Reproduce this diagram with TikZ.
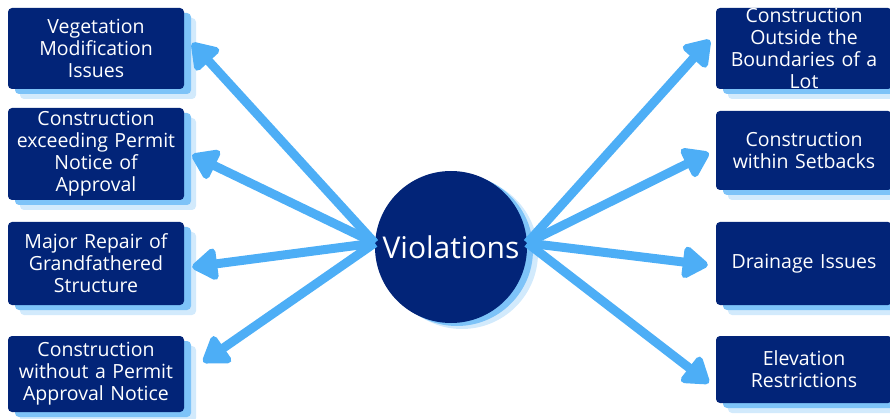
\documentclass[tikz,border=0pt]{standalone}
\usepackage{fontspec}
\setmainfont{Open Sans}
\usetikzlibrary{arrows.meta,shadows}
\definecolor{navy}{RGB}{2,36,120}
\definecolor{skyblue}{RGB}{125,195,248}
\definecolor{paleblue}{RGB}{210,234,252}
\definecolor{arrowblue}{RGB}{77,174,246}
\begin{document}
\begin{tikzpicture}[x=1pt, y=-1pt,
    box/.style={rectangle, rounded corners=4pt, fill=navy, text=white, minimum width=176pt, text width=172pt, align=center, inner sep=0pt, font=\fontsize{19.5}{22}\selectfont,
        general shadow={fill=paleblue, shadow xshift=12pt, shadow yshift=-10pt},
        general shadow={fill=skyblue, shadow xshift=7pt, shadow yshift=-5pt}},
    hub/.style={circle, fill=navy, text=white, minimum size=152pt, inner sep=0pt, font=\fontsize{30}{36}\selectfont,
        general shadow={fill=paleblue, shadow xshift=11pt, shadow yshift=-6pt},
        general shadow={fill=skyblue, shadow xshift=6pt, shadow yshift=-3pt}},
    arrow/.style={draw=arrowblue, line width=9pt, -{Triangle[length=28pt, width=36pt, round]}}]

    \useasboundingbox (0,0) rectangle (890,419);

    % Center
    \node[hub] (hub) at (451, 247) {Violations};

    % Left column
    \node[box, minimum height=81pt] (L1) at (96, 48.5) {Vegetation\\Modification\\Issues};
    \node[box, minimum height=92pt] (L2) at (96, 154) {Construction\\exceeding Permit\\Notice of\\Approval};
    \node[box, minimum height=83pt] (L3) at (96, 263.5) {Major Repair of\\Grandfathered\\Structure};
    \node[box, minimum height=76pt] (L4) at (96, 374) {Construction\\without a Permit\\Approval Notice};

    % Right column
    \node[box, minimum height=81pt] (R1) at (804, 48.5) {Construction\\Outside the\\Boundaries of a\\Lot};
    \node[box, minimum height=79pt] (R2) at (804, 150.5) {Construction\\within Setbacks};
    \node[box, minimum height=83pt] (R3) at (804, 263.5) {Drainage Issues};
    \node[box, minimum height=67pt] (R4) at (804, 369.5) {Elevation\\Restrictions};

    % Arrows out of the hub
    \draw[arrow] ([yshift=4pt]hub.west) -- ([xshift=8pt, yshift=5.5pt]L1.east);
    \draw[arrow] ([yshift=4pt]hub.west) -- ([xshift=8pt, yshift=-1pt]L2.east);
    \draw[arrow] ([yshift=4pt]hub.west) -- ([xshift=8pt, yshift=-3.5pt]L3.east);
    \draw[arrow] ([yshift=4pt]hub.west) -- ([xshift=19pt, yshift=12pt]L4.east);

    \draw[arrow] ([yshift=4pt]hub.east) -- ([xshift=-6pt, yshift=8.5pt]R1.west);
    \draw[arrow] ([yshift=4pt]hub.east) -- ([xshift=-7pt, yshift=-2.5pt]R2.west);
    \draw[arrow] ([yshift=4pt]hub.east) -- ([xshift=-8pt, yshift=-1.5pt]R3.west);
    \draw[arrow] ([yshift=4pt]hub.east) -- ([xshift=-7pt, yshift=-13.5pt]R4.west);

\end{tikzpicture}
\end{document}
